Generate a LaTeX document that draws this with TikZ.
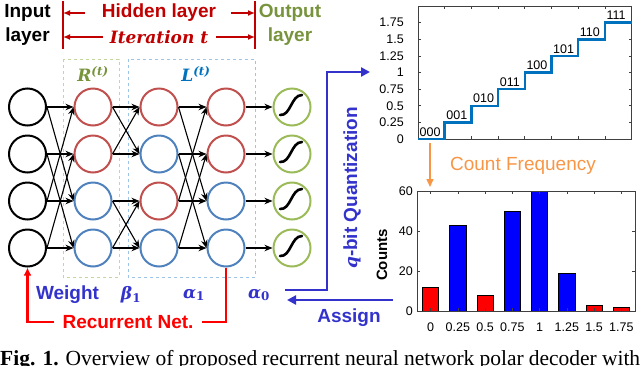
\documentclass[tikz,border=0pt]{standalone}
\usepackage{fontspec}
\setmainfont{Liberation Sans}
\newfontfamily\serifit{DejaVu Serif}
\newfontfamily\capfont{Liberation Serif}
\usepackage{xcolor}
\usetikzlibrary{arrows.meta,positioning}
\definecolor{nred}{HTML}{C0504D}
\definecolor{nblue}{HTML}{4F81BD}
\definecolor{ngreen}{HTML}{9BBB59}
\definecolor{outg}{HTML}{77933C}
\definecolor{hred}{HTML}{C00000}
\definecolor{lblue}{RGB}{51,51,204}
\definecolor{orng}{HTML}{F79646}
\definecolor{mblue}{HTML}{0072BD}
\definecolor{rboxc}{HTML}{C3D69B}
\definecolor{lboxc}{HTML}{9DC3E6}
\newcommand{\mi}[1]{{\serifit\fontsize{17}{20}\selectfont\bfseries\itshape #1}}

\begin{document}
\begin{tikzpicture}[x=1pt,y=-1pt,
  neu/.style={circle,draw,line width=2pt,minimum size=37pt,inner sep=0pt},
  arr/.style={-{Stealth[length=8pt,width=6.5pt]},line width=1.1pt},
  big/.style={font=\fontsize{19}{24}\selectfont\bfseries,align=center,inner sep=1pt},
  hline/.style={draw=hred,line width=1.5pt},
  harr/.style={-{Latex[length=7pt,width=6pt]},hred,line width=1.5pt},
  lay/.style={dashed,line width=0.8pt},
  sig/.style={line width=2.6pt,line cap=round},
  rline/.style={red,line width=2.4pt},
  qarr/.style={-{Triangle[length=9pt,width=9pt]},lblue,line width=2.4pt},
  oarr/.style={-{Triangle[length=8pt,width=7pt]},orng,line width=1.5pt},
  tk/.style={font=\fontsize{12.5}{13}\selectfont,inner sep=0pt},
  frame/.style={draw=black!75,line width=0.7pt},
  bar/.style={draw=black,line width=0.8pt}]
\useasboundingbox (0,0) rectangle (640,365);
\clip (0,0) rectangle (640,365);

% header
\node[big] (inl) at (27.5,25) {Input\\layer};
\node[big,text=outg] (outl) at (290,25) {Output\\layer};
\coordinate (hl) at (63,1); \coordinate (hr) at (255,1);
\draw[hline] (hl) -- ++(0,48); \draw[hline] (hr) -- ++(0,48);
\node[big,text=hred] (hid) at (159,13) {Hidden layer};
\node[big,text=hred] (itr) at (159,37) {\mi{Iteration t}};
\draw[harr,shorten <=16pt] (hid.west) -- (hid.west -| hl);
\draw[harr,shorten <=14pt] (hid.east) -- (hid.east -| hr);
\draw[harr,shorten <=6pt] (itr.west) -- (itr.west -| hl);
\draw[harr,shorten <=7pt] (itr.east) -- (itr.east -| hr);

% R and L blocks
\draw[lay,rboxc] (63,59) rectangle (119,277);
\draw[lay,lboxc] (128,59) rectangle (255,277);
\node[text=outg] (rlab) at (93,74) {\mi{R\textsuperscript{(t)}}};
\node[text=mblue] (llab) at (196,74) {\mi{L\textsuperscript{(t)}}};

% neurons
\foreach \r/\y/\cr/\ca/\cb in {1/107/nred/nred/nred,2/154/nred/nblue/nred,3/201/nblue/nred/nblue,4/248/nblue/nblue/nblue}{
  \node[neu] (i\r) at (27.5,\y) {};
  \node[neu,draw=\cr] (r\r) at (93,\y) {};
  \node[neu,draw=\ca] (a\r) at (159,\y) {};
  \node[neu,draw=\cb] (b\r) at (226,\y) {};
  \node[neu,draw=ngreen] (o\r) at (292,\y) {};
  \draw[sig,shift={(o\r.center)}] (-12,8) .. controls (-1,9) and (-1,-12) .. (10,-12);
  \draw[arr] (b\r) -- (o\r);
}
\foreach \s/\t in {1/1,1/3,2/2,2/4,3/3,3/1,4/4,4/2}{
  \draw[arr] (i\s.east) -- (r\t.west); \draw[arr] (a\s.east) -- (b\t.west);}
\foreach \s/\t in {1/1,1/2,2/2,2/1,3/3,3/4,4/4,4/3}
  \draw[arr] (r\s.east) -- (a\t.west);

% weights and recurrence
\node[big,text=lblue] (wgt) at (67.5,295) {Weight};
\node[text=lblue] (bt1) at (131,295) {\mi{β\textsubscript{\upshape 1}}};
\node[text=lblue] (al1) at (194,295) {\mi{α\textsubscript{\upshape 1}}};
\node[text=lblue] (al0) at (259,295) {\mi{α\textsubscript{\upshape 0}}};
\node[big,text=red,inner xsep=8pt] (rec) at (128,322) {Recurrent Net.};
\draw[rline] (b4.south) |- (rec.east);
\draw[rline,-{Latex[length=8pt,width=8pt]}] (rec.west) -| (i4.south);

% quantization / assign
\coordinate (q0) at (285,290); \coordinate (q1) at (370,72);
\draw[qarr] (q0) -| (327,180) |- (q1);
\coordinate (as0) at (393,300); \coordinate (as1) at (287,300);
\draw[qarr] (as0) -- (as1);
\node[big,text=lblue] (asg) at (349,318) {Assign};
\node[big,text=lblue,rotate=90] (qbt) at (352,188) {\mi{q}-bit Quantization};

% step chart
\begin{scope}[shift={(418,139)},x=26.7pt,y=66.5pt]
  \draw[frame] (0,0) rectangle (8,2);
  \foreach \k in {1,...,7}{\draw[frame] (\k,0) -- ++(0,3pt); \draw[frame] (\k,2) -- ++(0,-3pt);}
  \foreach \v [count=\n] in {0,0.25,0.5,0.75,1,1.25,1.5,1.75}{
    \draw[frame] (0,\v) -- ++(3pt,0); \draw[frame] (8,\v) -- ++(-3pt,0);
    \node[tk,anchor=east] (ya\n) at (0,\v) [xshift=-14pt] {\v};}
  \draw[mblue,line width=2.5pt] (0,0) \foreach \k in {1,...,7}{-- (\k,{(\k-1)/4}) -- (\k,\k/4)} -- (8,1.75);
  \foreach \lab [count=\k from 0] in {000,001,010,011,100,101,110,111}
    \node[tk,anchor=south west,inner sep=1.5pt,yshift=1pt] (s\k) at (\k,\k/4) {\lab};
\end{scope}

\coordinate (cf1) at (430,143); \coordinate (cf2) at (430,187);
\draw[oarr] (cf1) -- (cf2);
\node[text=orng,font=\fontsize{19}{22}\selectfont] (cfq) at (523,166) {Count Frequency};

% bar chart
\begin{scope}[shift={(417,311)},x=27.25pt,y=2pt]
  \foreach \h/\c [count=\i from 0] in {12/red,43/blue,8/red,50/blue,60/blue,19/blue,3/red,2/red}
    \draw[bar,fill=\c] (\i+0.2,0) rectangle (\i+0.8,\h);
  \draw[frame] (0,0) rectangle (8,60);
  \foreach \lab [count=\i from 0] in {0,0.25,0.5,0.75,1,1.25,1.5,1.75}{
    \draw[frame] (\i+0.5,0) -- ++(0,3pt); \draw[frame] (\i+0.5,60) -- ++(0,-3pt);
    \node[tk] (xb\i) at (\i+0.5,-8) {\lab};}
  \foreach \v in {0,20,40,60}{
    \draw[frame] (0,\v) -- ++(3pt,0); \draw[frame] (8,\v) -- ++(-3pt,0);
    \node[tk,anchor=east] (yb\v) at (0,\v) [xshift=-4pt] {\v};}
\end{scope}
\node[rotate=90,font=\fontsize{15}{15}\selectfont\bfseries] (cnt) at (382,255) {Counts};

% caption (cut off at the bottom)
\node[anchor=base west,inner sep=0pt,font=\capfont\fontsize{21.5}{22}\selectfont] (cap) at (0,365)
  {\makebox[640pt][s]{\textbf{Fig. 1.} Overview of proposed recurrent neural network polar decoder with}};
\end{tikzpicture}
\end{document}
